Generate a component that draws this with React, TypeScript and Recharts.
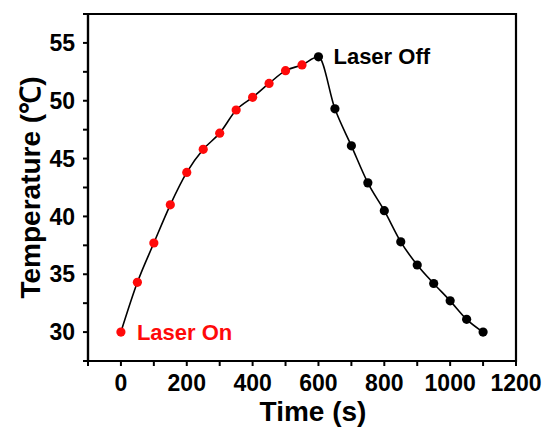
import { LineChart, Line, XAxis, YAxis, ReferenceArea } from 'recharts';

// heating phase (laser on)
const heatTimes = [0, 50, 100, 150, 200, 250, 300, 350, 400, 450, 500, 550];
const heatTemps = [30.0, 34.3, 37.7, 41.0, 43.8, 45.8, 47.2, 49.2, 50.3, 51.5, 52.6, 53.1];

// cooling phase (laser off)
const coolTimes = [600, 650, 700, 750, 800, 850, 900, 950, 1000, 1050, 1100];
const coolTemps = [53.8, 49.3, 46.1, 42.9, 40.5, 37.8, 35.8, 34.2, 32.7, 31.1, 30.0];

const xTicks = [-100, 0, 100, 200, 300, 400, 500, 600, 700, 800, 900, 1000, 1100, 1200];
const yTicks = [27.5, 30, 32.5, 35, 37.5, 40, 42.5, 45, 47.5, 50, 52.5, 55, 57.5];

const data = [
    ...heatTimes.map((t, i) => ({ time: t, temp: heatTemps[i], phase: 'on' })),
    ...coolTimes.map((t, i) => ({ time: t, temp: coolTemps[i], phase: 'off' })),
];

const FONT = '"Liberation Sans", Arial, sans-serif';
const RED = '#ff0a0a';

const renderDot = (props: any) => {
    const { cx, cy, index, payload } = props;
    return (
        <circle
            key={`dot-${index}`}
            cx={cx}
            cy={cy}
            r={4.6}
            fill={payload.phase === 'on' ? RED : '#000'}
            stroke="none"
        />
    );
};

const renderLabel = (props: any) => {
    const { x, y, index } = props;
    if (index === 0) {
        return (
            <text key="lbl-on" x={x + 16} y={y} dominantBaseline="central" fill={RED} fontSize={22} fontWeight="bold" fontFamily={FONT}>
                Laser On
            </text>
        );
    }
    if (index === heatTimes.length) {
        return (
            <text key="lbl-off" x={x + 15} y={y} dominantBaseline="central" fill="#000" fontSize={22} fontWeight="bold" fontFamily={FONT}>
                Laser Off
            </text>
        );
    }
    return <g key={`lbl-${index}`} />;
};

const XTitle = (props: any) => {
    const { viewBox } = props;
    return (
        <text x={viewBox.x + viewBox.width / 2 + 11} y={421} textAnchor="middle" fill="#000" fontSize={28} fontWeight="bold" fontFamily={FONT}>
            Time (s)
        </text>
    );
};

const YTitle = (props: any) => {
    const { viewBox } = props;
    const cx = 30;
    const cy = viewBox.y + viewBox.height / 2;
    return (
        <text x={cx} y={cy} transform={`rotate(-90, ${cx}, ${cy})`} textAnchor="middle" dominantBaseline="central" fill="#000" fontSize={28} fontWeight="bold" fontFamily={FONT}>
            Temperature (℃)
        </text>
    );
};

const tickStyle = { fill: '#000', fontSize: 23, fontWeight: 'bold', fontFamily: FONT };

export default function App() {
    return (
        <div style={{ position: 'absolute', left: 0, top: 0, width: 549, height: 433, background: '#fff' }}>
            <LineChart width={549} height={433} data={data} margin={{ top: 14, right: 33, bottom: 0, left: 0 }}>
                <ReferenceArea x1={-100} x2={1200} y1={27.5} y2={57.5} fill="none" fillOpacity={0} stroke="#000" strokeWidth={2.2} ifOverflow="visible" />
                <XAxis
                    dataKey="time"
                    type="number"
                    domain={[-100, 1200]}
                    ticks={xTicks}
                    tickFormatter={(v: number) => (v >= 0 && v % 200 === 0 ? String(v) : '')}
                    interval={0}
                    height={72}
                    axisLine={{ stroke: '#000', strokeWidth: 2.2 }}
                    tickLine={{ stroke: '#000', strokeWidth: 2 }}
                    tickSize={5}
                    tickMargin={9}
                    tick={tickStyle}
                    label={<XTitle />}
                />
                <YAxis
                    dataKey="temp"
                    type="number"
                    domain={[27.5, 57.5]}
                    ticks={yTicks}
                    tickFormatter={(v: number) => (v % 5 === 0 ? String(v) : '')}
                    interval={0}
                    width={88}
                    axisLine={{ stroke: '#000', strokeWidth: 2.2 }}
                    tickLine={{ stroke: '#000', strokeWidth: 2 }}
                    tickSize={5}
                    tickMargin={8}
                    tick={tickStyle}
                    label={<YTitle />}
                />
                <Line
                    type="monotone"
                    dataKey="temp"
                    stroke="#000"
                    strokeWidth={1.6}
                    dot={renderDot}
                    activeDot={false}
                    label={renderLabel}
                    isAnimationActive={false}
                />
            </LineChart>
        </div>
    );
}
